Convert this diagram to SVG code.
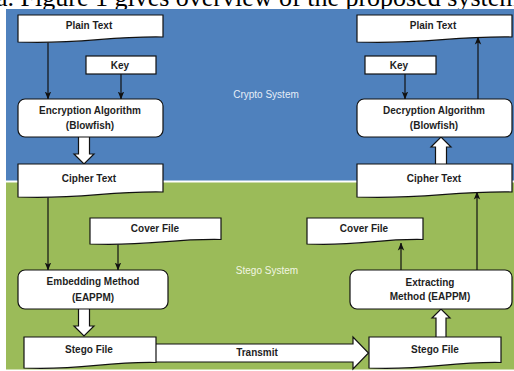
<svg xmlns="http://www.w3.org/2000/svg" width="514" height="371" viewBox="0 0 514 371">
<defs>
<style>
.shape{fill:#fff;stroke:#111;stroke-width:1.2}
.t{font-family:"Liberation Sans",Arial,sans-serif;font-size:10px;font-weight:bold;fill:#1e1e1e;text-anchor:middle}
.lbl{font-family:"Liberation Sans",Arial,sans-serif;font-size:10px;text-anchor:middle}
.ln{stroke:#111;stroke-width:1.2;fill:none;marker-end:url(#ah)}
.fat{fill:#fff;stroke:#111;stroke-width:1.2;stroke-linejoin:miter}
</style>
<marker id="ah" markerUnits="userSpaceOnUse" markerWidth="8" markerHeight="8" viewBox="0 0 8 8" refX="7.5" refY="4" orient="auto">
<path d="M0,0.8 L8,4 L0,7.2 L2,4 Z" fill="#111"/>
</marker>
</defs>
<rect x="0" y="0" width="514" height="371" fill="#fff"/>
<text x="-4" y="6" font-family="'Liberation Serif','Times New Roman',serif" font-size="26" fill="#000">a. Figure 1 gives overview of the proposed system</text>
<rect x="6" y="9" width="508" height="171.5" fill="#4f81bd"/>
<rect x="6" y="182.5" width="508" height="187" fill="#9bbb59"/>
<text class="lbl" x="266" y="98" fill="#e6edf7">Crypto System</text>
<text class="lbl" x="267" y="273.5" fill="#f2f6e2">Stego System</text>

<g id="connectors">
<line class="ln" x1="48" y1="41" x2="48" y2="99"/>
<line class="ln" x1="121" y1="74" x2="121" y2="99"/>
<line class="ln" x1="405" y1="74" x2="405" y2="99"/>
<line class="ln" x1="478" y1="99" x2="478" y2="37"/>
<line class="ln" x1="48" y1="196" x2="48" y2="270"/>
<line class="ln" x1="118" y1="243" x2="118" y2="270"/>
<line class="ln" x1="401" y1="270" x2="401" y2="243"/>
<line class="ln" x1="477" y1="270" x2="477" y2="192"/>
<path class="fat" d="M78.5,137 V154 H74 L84,164 L94,154 H89.5 V137"/>
<path class="fat" d="M435.5,164 V147 H431 L441,137 L451,147 H446.5 V164"/>
<path class="fat" d="M78.5,309 V326 H74 L84,336 L94,326 H89.5 V309"/>
<path class="fat" d="M436,337 V318 H432 L441,309 L450,318 H446 V337"/>
<path class="fat" d="M156,344 H353 V337 L368.5,353 L353,369 V362 H156"/>
<text class="t" x="257" y="356" font-weight="normal">Transmit</text>
</g>

<g id="plain-text-l">
<path class="shape" d="M18,15 H163 V37 C105,36 83,44.5 18,42 Z"/>
<text class="t" x="89" y="29">Plain Text</text>
</g>
<g id="key-l">
<rect class="shape" x="86" y="56" width="70" height="18"/>
<text class="t" x="120" y="68.5">Key</text>
</g>
<g id="encryption">
<rect class="shape" x="18" y="99" width="145" height="38" rx="7"/>
<text class="t" x="90" y="114">Encryption Algorithm</text>
<text class="t" x="90" y="128.5">(Blowfish)</text>
</g>
<g id="cipher-text-l">
<path class="shape" d="M18,164 H163 V192 C105,191 83,199.5 18,197 Z"/>
<text class="t" x="89" y="181.5">Cipher Text</text>
</g>
<g id="plain-text-r">
<path class="shape" d="M357,15 H512 V37 C450,36 426,44.5 357,42 Z"/>
<text class="t" x="433" y="29">Plain Text</text>
</g>
<g id="key-r">
<rect class="shape" x="365" y="56" width="71" height="18"/>
<text class="t" x="399" y="68.5">Key</text>
</g>
<g id="decryption">
<rect class="shape" x="357" y="99" width="155" height="38" rx="7"/>
<text class="t" x="434" y="114">Decryption Algorithm</text>
<text class="t" x="434" y="128.5">(Blowfish)</text>
</g>
<g id="cipher-text-r">
<path class="shape" d="M357,164 H512 V192 C450,191 426,199.5 357,197 Z"/>
<text class="t" x="434" y="181.5">Cipher Text</text>
</g>
<g id="cover-file-l">
<path class="shape" d="M90,218 H221 V239.5 C169,238.5 149,246.5 90,244 Z"/>
<text class="t" x="155" y="231.5">Cover File</text>
</g>
<g id="embedding">
<rect class="shape" x="18" y="270" width="150" height="39" rx="7"/>
<text class="t" x="93" y="285">Embedding Method</text>
<text class="t" x="93" y="300.5">(EAPPM)</text>
</g>
<g id="stego-file-l">
<path class="shape" d="M24,337 H156 V362.5 C103,361.5 83,370.5 24,368 Z"/>
<text class="t" x="89" y="352.5">Stego File</text>
</g>
<g id="cover-file-r">
<path class="shape" d="M307,218 H423 V239.5 C377,238.5 359,246.5 307,244 Z"/>
<text class="t" x="364" y="231.5">Cover File</text>
</g>
<g id="extracting">
<rect class="shape" x="350" y="270" width="162" height="39" rx="7"/>
<text class="t" x="430" y="285.5">Extracting</text>
<text class="t" x="430" y="299.5">Method (EAPPM)</text>
</g>
<g id="stego-file-r">
<path class="shape" d="M369,337 H501 V362.5 C448,361.5 428,370.5 369,368 Z"/>
<text class="t" x="435" y="352.5">Stego File</text>
</g>
</svg>
